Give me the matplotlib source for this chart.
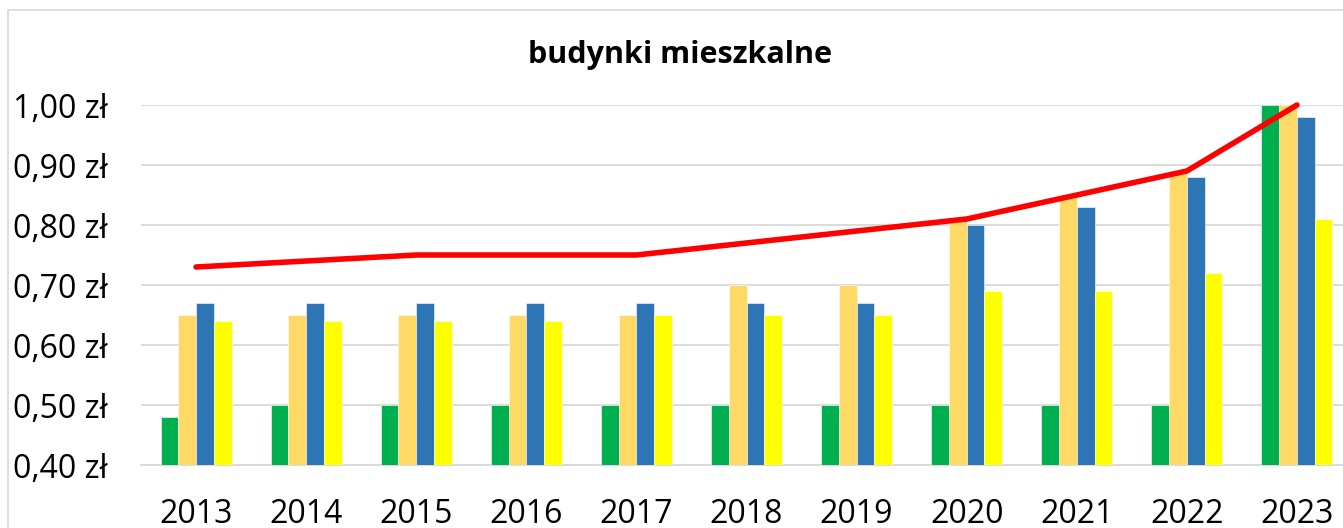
import matplotlib
matplotlib.use("Agg")
import matplotlib.pyplot as plt
from matplotlib.ticker import FuncFormatter
from matplotlib.patches import Rectangle
import numpy as np

plt.rcParams['font.family'] = ['Open Sans', 'DejaVu Sans']

lata = ["2013", "2014", "2015", "2016", "2017", "2018", "2019", "2020", "2021", "2022", "2023"]
zielony = [0.48, 0.50, 0.50, 0.50, 0.50, 0.50, 0.50, 0.50, 0.50, 0.50, 1.00]
pomaranczowy = [0.65, 0.65, 0.65, 0.65, 0.65, 0.70, 0.70, 0.81, 0.85, 0.89, 1.00]
niebieski = [0.67, 0.67, 0.67, 0.67, 0.67, 0.67, 0.67, 0.80, 0.83, 0.88, 0.98]
zolty = [0.64, 0.64, 0.64, 0.64, 0.65, 0.65, 0.65, 0.69, 0.69, 0.72, 0.81]
linia = [0.73, 0.74, 0.75, 0.75, 0.75, 0.77, 0.79, 0.81, 0.85, 0.89, 1.00]

W, H = 1343, 528
fig = plt.figure(figsize=(W / 100, H / 100), dpi=100)

# ramka wykresu (obcieta z prawej i z dolu)
fig.patches.append(Rectangle((8 / W, -0.1), 1.2, 1 - 10 / H + 0.1, transform=fig.transFigure,
                             fill=False, edgecolor="#D9D9D9", linewidth=1.2))

ax = fig.add_axes([141 / W, (H - 465) / H, 1211 / W, 360 / H])

x = np.arange(len(lata))
w = 0.645 / 4
serie = [(zielony, "#00B050"), (pomaranczowy, "#FFD966"), (niebieski, "#2E75B6"), (zolty, "#FFFF00")]
for i, (vals, kol) in enumerate(serie):
    ax.bar(x + (i - 1.5) * w, np.array(vals) - 0.40, w, bottom=0.40, color=kol,
           edgecolor="white", linewidth=0.4, zorder=3)

ax.plot(x, linia, color="#FF0000", linewidth=4.0, zorder=4, clip_on=False, solid_capstyle="round")

ax.set_xlim(-0.5, len(lata) - 0.5)
ax.set_ylim(0.40, 1.00)
ax.set_yticks(np.arange(0.40, 1.001, 0.10))
ax.yaxis.set_major_formatter(FuncFormatter(lambda v, p: f"{v:.2f}".replace(".", ",") + " zł"))
ax.set_xticks(x)
ax.set_xticklabels(lata)
ax.grid(axis="y", color="#D9D9D9", linewidth=1.3, zorder=0)
ax.tick_params(axis="both", length=0, labelsize=23, colors="#000000")
ax.tick_params(axis="y", pad=24)
ax.tick_params(axis="x", pad=24)
for s in ["top", "right", "left"]:
    ax.spines[s].set_visible(False)
ax.spines["bottom"].set_color("#D9D9D9")
ax.spines["bottom"].set_linewidth(1.3)

fig.text(680 / W, 1 - 55 / H, "budynki mieszkalne", ha="center", va="center",
         fontsize=22, fontweight="bold")

fig.savefig("out.png", dpi=100)
